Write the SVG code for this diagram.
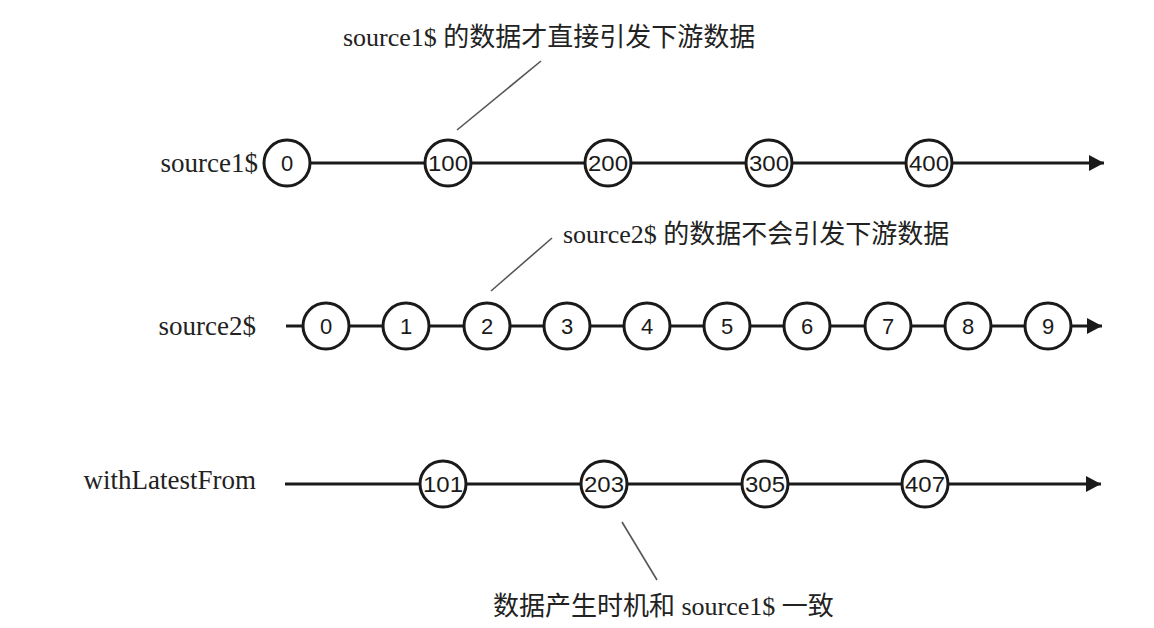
<svg xmlns="http://www.w3.org/2000/svg" width="1154" height="628" viewBox="0 0 1154 628">
<style>
.lbl{font-family:"Liberation Serif","Noto Sans CJK SC",serif;font-size:27px;fill:#222}
.ann{font-family:"Liberation Serif","Noto Sans CJK SC",serif;font-size:26px;fill:#222}
.ball circle{fill:#fff;stroke:#1a1a1a;stroke-width:3}
.ball text{font-family:"Liberation Sans",Arial,sans-serif;font-size:22px;fill:#1a1a1a;text-anchor:middle}
.axis{stroke:#1a1a1a;stroke-width:3;fill:none}
.lead{stroke:#555;stroke-width:1.6;fill:none}
</style>
<defs>
<marker id="arr" markerWidth="16" markerHeight="16" refX="15" refY="8" orient="auto" markerUnits="userSpaceOnUse">
<polygon points="0,0 15,8 0,16" fill="#1a1a1a"/>
</marker>
</defs>
<rect width="1154" height="628" fill="#fff"/>
<g id="connectors">
<line class="axis" x1="306" y1="163" x2="1104" y2="163" marker-end="url(#arr)"/>
<line class="axis" x1="286" y1="326" x2="1102" y2="326" marker-end="url(#arr)"/>
<line class="axis" x1="285" y1="484" x2="1101" y2="484" marker-end="url(#arr)"/>
<line class="lead" x1="541" y1="61" x2="457" y2="130"/>
<line class="lead" x1="552" y1="238" x2="491" y2="291"/>
<line class="lead" x1="622" y1="522" x2="657" y2="580"/>
</g>
<g id="labels">
<text class="lbl" x="258" y="172" text-anchor="end">source1$</text>
<text class="lbl" x="256" y="335" text-anchor="end">source2$</text>
<text class="lbl" x="256" y="489" text-anchor="end">withLatestFrom</text>
<text class="ann" x="343" y="46">source1$ 的数据才直接引发下游数据</text>
<text class="ann" x="563" y="243">source2$ 的数据不会引发下游数据</text>
<text class="ann" x="493" y="615">数据产生时机和 source1$ 一致</text>
</g>
<g id="s1-0" class="ball"><circle cx="287" cy="163" r="23"/><text x="287" y="171">0</text></g>
<g id="s1-100" class="ball"><circle cx="448" cy="163" r="23"/><text x="448" y="171" textLength="40" lengthAdjust="spacingAndGlyphs">100</text></g>
<g id="s1-200" class="ball"><circle cx="608" cy="163" r="23"/><text x="608" y="171" textLength="40" lengthAdjust="spacingAndGlyphs">200</text></g>
<g id="s1-300" class="ball"><circle cx="769" cy="163" r="23"/><text x="769" y="171" textLength="40" lengthAdjust="spacingAndGlyphs">300</text></g>
<g id="s1-400" class="ball"><circle cx="929" cy="163" r="23"/><text x="929" y="171" textLength="40" lengthAdjust="spacingAndGlyphs">400</text></g>
<g id="s2-0" class="ball"><circle cx="326" cy="326" r="23"/><text x="326" y="334">0</text></g>
<g id="s2-1" class="ball"><circle cx="406" cy="326" r="23"/><text x="406" y="334">1</text></g>
<g id="s2-2" class="ball"><circle cx="487" cy="326" r="23"/><text x="487" y="334">2</text></g>
<g id="s2-3" class="ball"><circle cx="567" cy="326" r="23"/><text x="567" y="334">3</text></g>
<g id="s2-4" class="ball"><circle cx="647" cy="326" r="23"/><text x="647" y="334">4</text></g>
<g id="s2-5" class="ball"><circle cx="727" cy="326" r="23"/><text x="727" y="334">5</text></g>
<g id="s2-6" class="ball"><circle cx="807" cy="326" r="23"/><text x="807" y="334">6</text></g>
<g id="s2-7" class="ball"><circle cx="888" cy="326" r="23"/><text x="888" y="334">7</text></g>
<g id="s2-8" class="ball"><circle cx="968" cy="326" r="23"/><text x="968" y="334">8</text></g>
<g id="s2-9" class="ball"><circle cx="1048" cy="326" r="23"/><text x="1048" y="334">9</text></g>
<g id="w-101" class="ball"><circle cx="443" cy="484" r="23"/><text x="443" y="492" textLength="40" lengthAdjust="spacingAndGlyphs">101</text></g>
<g id="w-203" class="ball"><circle cx="604" cy="484" r="23"/><text x="604" y="492" textLength="40" lengthAdjust="spacingAndGlyphs">203</text></g>
<g id="w-305" class="ball"><circle cx="765" cy="484" r="23"/><text x="765" y="492" textLength="40" lengthAdjust="spacingAndGlyphs">305</text></g>
<g id="w-407" class="ball"><circle cx="925" cy="484" r="23"/><text x="925" y="492" textLength="40" lengthAdjust="spacingAndGlyphs">407</text></g>
</svg>
